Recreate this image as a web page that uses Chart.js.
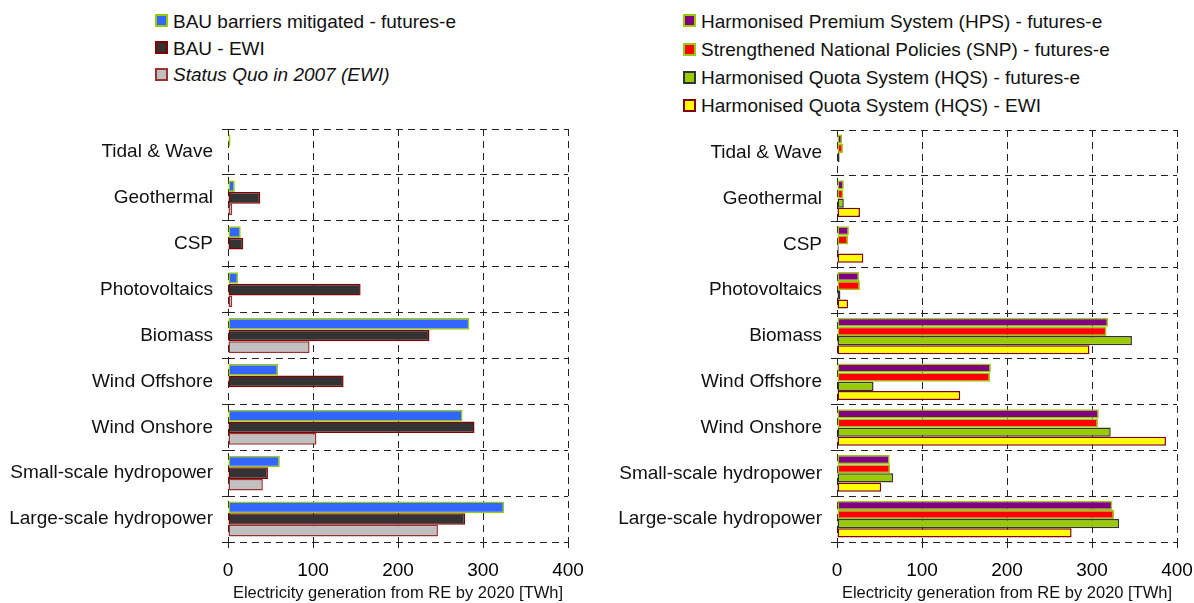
<!DOCTYPE html>
<html>
<head>
<meta charset="utf-8">
<script src="https://cdn.jsdelivr.net/npm/chart.js@4/dist/chart.umd.min.js"></script>
<style>
  html, body { margin: 0; padding: 0; background: #fff; }
  #wrap { position: relative; width: 1194px; height: 603px; overflow: hidden;
          font-family: 'Liberation Sans', Arial, sans-serif; }
  .cv { position: absolute; top: 0; }
  .item { position: absolute; height: 0; }
  .item .box { position: absolute; left: 0; top: -6.5px; width: 13px; height: 13px;
               box-sizing: border-box; border: 2px solid; }
  .item .txt { position: absolute; left: 18px; top: 0; transform: translateY(-50%);
               font-size: 19px; line-height: 1; color: #111; white-space: nowrap; }
</style>
</head>
<body>
<div id="wrap">
  <div id="legLeft"></div>
  <div id="legRight"></div>
  <canvas id="left" class="cv" width="600" height="603" style="left:0;width:600px;height:603px"></canvas>
  <canvas id="right" class="cv" width="594" height="603" style="left:600px;width:594px;height:603px"></canvas>
</div>
<script>
// Renewable technologies (same order in both panels, top to bottom)
const categories = ['Tidal & Wave', 'Geothermal', 'CSP', 'Photovoltaics', 'Biomass',
  'Wind Offshore', 'Wind Onshore', 'Small-scale hydropower', 'Large-scale hydropower'];
const xTicks = [0, 100, 200, 300, 400];
const axisTitle = 'Electricity generation from RE by 2020 [TWh]';

// Left panel: business-as-usual scenarios [TWh]
const bauMitigated = [3, 8, 15, 12, 284, 59, 276, 61, 325];
const bauEwi = [null, 38, 18, 156, 237, 136, 290, 47, 279];
const statusQuo2007 = [null, 5, null, 5, 96, null, 104, 41, 247];

// Right panel: policy scenarios [TWh]
const hpsFutures = [6, 8, 14, 26, 319, 181, 308, 62, 324];
const snpFutures = [7, 7.5, 13, 27, 317, 180, 307, 62.5, 326];
const hqsFutures = [3, 8, 2, 4, 347, 43, 322, 66, 332];
const hqsEwi = [null, 27, 31, 13, 297, 145, 387, 52, 276];

const FONT = "'Liberation Sans', Arial, sans-serif";

const leftSeries = [
  { label: 'BAU barriers mitigated - futures-e', data: bauMitigated, fill: '#3366FF', edge: '#99CC00' },
  { label: 'BAU - EWI', data: bauEwi, fill: '#333333', edge: '#800000' },
  { label: 'Status Quo in 2007 (EWI)', data: statusQuo2007, fill: '#C0C0C0', edge: '#993333', italic: true }
];
const rightSeries = [
  { label: 'Harmonised Premium System (HPS) - futures-e', data: hpsFutures, fill: '#800080', edge: '#99CC00' },
  { label: 'Strengthened National Policies (SNP) - futures-e', data: snpFutures, fill: '#FF0000', edge: '#99CC00' },
  { label: 'Harmonised Quota System (HQS) - futures-e', data: hqsFutures, fill: '#99CC00', edge: '#333333' },
  { label: 'Harmonised Quota System (HQS) - EWI', data: hqsEwi, fill: '#FFFF00', edge: '#800000' }
];

function buildLegend(el, series, left, rows) {
  series.forEach((s, i) => {
    const d = document.createElement('div');
    d.className = 'item';
    d.style.left = left + 'px';
    d.style.top = rows[i] + 'px';
    const b = document.createElement('div');
    b.className = 'box';
    b.style.background = s.fill;
    b.style.borderColor = s.edge;
    const t = document.createElement('div');
    t.className = 'txt';
    t.textContent = s.label;
    if (s.italic) t.style.fontStyle = 'italic';
    d.appendChild(b); d.appendChild(t);
    el.appendChild(d);
  });
}
buildLegend(document.getElementById('legLeft'), leftSeries, 155, [20.7, 47.7, 74]);
buildLegend(document.getElementById('legRight'), rightSeries, 683, [20.7, 49, 77.3, 105]);

function makeChart(canvasId, series, cfg) {
  return new Chart(document.getElementById(canvasId), {
    type: 'bar',
    data: {
      labels: categories,
      datasets: series.map(s => ({
        label: s.label,
        data: s.data,
        backgroundColor: s.fill,
        borderColor: s.edge,
        borderWidth: 1.5,
        borderSkipped: false,
        categoryPercentage: cfg.catPct,
        barPercentage: 1
      }))
    },
    options: {
      indexAxis: 'y',
      responsive: false,
      animation: false,
      events: [],
      layout: { padding: { top: cfg.top, right: cfg.right, left: 0, bottom: 0 } },
      plugins: { legend: { display: false }, tooltip: { enabled: false } },
      scales: {
        x: {
          type: 'linear',
          min: 0, max: 400,
          afterBuildTicks: (axis) => { axis.ticks = xTicks.map(v => ({ value: v })); },
          afterFit: (axis) => {
            axis.height = 61;
            // the outer tick labels have room in the margins already
            axis.paddingLeft = 0;
            axis.paddingRight = 0;
          },
          grid: { color: '#222', lineWidth: 1, tickLength: 6, drawTicks: true },
          border: { display: false, dash: [7, 5] },
          ticks: { color: '#000', padding: 11, font: { family: FONT, size: 19 } },
          title: { display: true, text: axisTitle, color: '#111', padding: { top: 0, bottom: 0 },
                   font: { family: FONT, size: 16.5 } }
        },
        y: {
          type: 'category',
          offset: true,
          afterFit: (axis) => { axis.width = cfg.yWidth; },
          grid: { color: '#222', lineWidth: 1, offset: true, tickLength: 6 },
          border: { display: false, dash: [7, 5] },
          ticks: { color: '#111', padding: 9, font: { family: FONT, size: 19 } }
        }
      }
    }
  });
}

makeChart('left', leftSeries, { top: 129, right: 32, yWidth: 228, catPct: 0.76 });
makeChart('right', rightSeries, { top: 130, right: 17, yWidth: 237, catPct: 0.8 });
</script>
</body>
</html>
